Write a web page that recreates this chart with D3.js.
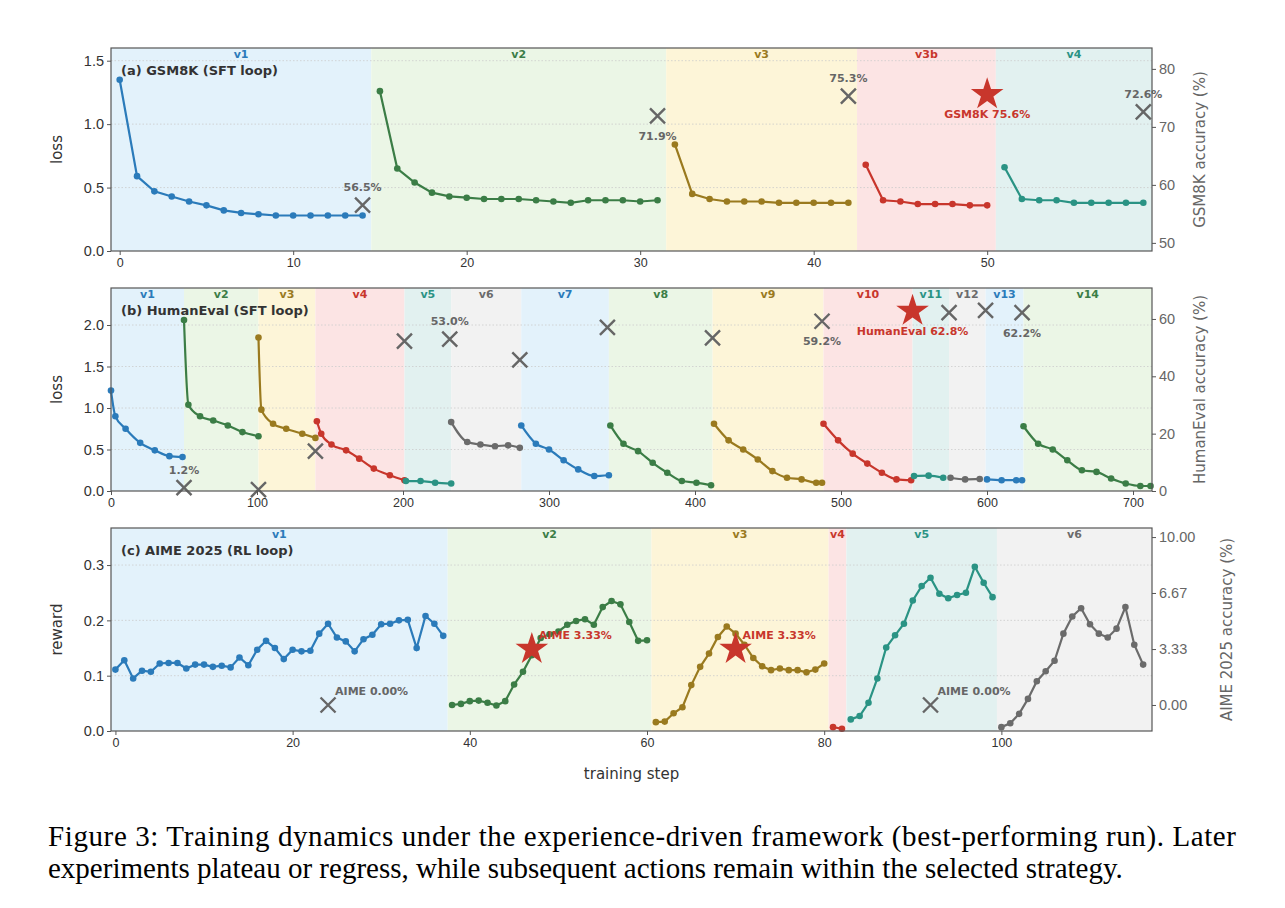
<!DOCTYPE html>
<html lang="en">
<head>
<meta charset="UTF-8">
<title>Training dynamics</title>
<style>
  body { margin: 0; background: #fff; }
  svg { font-family: "DejaVu Sans", sans-serif; }
  .caption { font-family: "Liberation Serif", serif; font-size: 29px; fill: #000; }
</style>
<script src="https://d3js.org/d3.v7.min.js"></script>
</head>
<body>
<svg width="1285" height="908"></svg>
<script>
// ---------- data ----------
const colors = { blue: "#2b7bba", green: "#3b7d46", olive: "#9a7a1f", red: "#c8362c", teal: "#2a9384", gray: "#6b6b6b" };
const fills  = { blue: "#e3f2fb", green: "#ebf6e6", olive: "#fdf5d8", red: "#fce4e4", teal: "#e2f1f0", gray: "#f2f2f2" };

// (a) GSM8K
const aBands = [
  { name: "v1", from: -0.5, to: 14.5, c: "blue" }, { name: "v2", from: 14.5, to: 31.5, c: "green" },
  { name: "v3", from: 31.5, to: 42.5, c: "olive" }, { name: "v3b", from: 42.5, to: 50.5, c: "red" },
  { name: "v4", from: 50.5, to: 59.5, c: "teal" }
];
const aLoss = [
  { start: 0,  c: "blue",  v: [1.35,0.59,0.47,0.43,0.39,0.36,0.32,0.30,0.29,0.28,0.28,0.28,0.28,0.28,0.28] },
  { start: 15, c: "green", v: [1.26,0.65,0.54,0.46,0.43,0.42,0.41,0.41,0.41,0.40,0.39,0.38,0.40,0.40,0.40,0.39,0.40] },
  { start: 32, c: "olive", v: [0.84,0.45,0.41,0.39,0.39,0.39,0.38,0.38,0.38,0.38,0.38] },
  { start: 43, c: "red",   v: [0.68,0.40,0.39,0.37,0.37,0.37,0.36,0.36] },
  { start: 51, c: "teal",  v: [0.66,0.41,0.40,0.40,0.38,0.38,0.38,0.38,0.38] }
];
const aEvals = [
  { step: 14, acc: 56.5, label: "56.5%", pos: "above" },
  { step: 31, acc: 71.9, label: "71.9%", pos: "below" },
  { step: 42, acc: 75.3, label: "75.3%", pos: "above" },
  { step: 50, acc: 75.6, label: "GSM8K 75.6%", pos: "below", best: true },
  { step: 59, acc: 72.6, label: "72.6%", pos: "above" }
];

// (b) HumanEval
const bBands = [
  { name: "v1", from: 0, to: 50, c: "blue" }, { name: "v2", from: 50, to: 101, c: "green" },
  { name: "v3", from: 101, to: 140, c: "olive" }, { name: "v4", from: 140, to: 201, c: "red" },
  { name: "v5", from: 201, to: 233, c: "teal" }, { name: "v6", from: 233, to: 281, c: "gray" },
  { name: "v7", from: 281, to: 341, c: "blue" }, { name: "v8", from: 341, to: 412, c: "green" },
  { name: "v9", from: 412, to: 488, c: "olive" }, { name: "v10", from: 488, to: 549, c: "red" },
  { name: "v11", from: 549, to: 574, c: "teal" }, { name: "v12", from: 574, to: 599, c: "gray" },
  { name: "v13", from: 599, to: 625, c: "blue" }, { name: "v14", from: 625, to: 713, c: "green" }
];
const bLoss = [
  { c: "blue",  p: [[0,1.21],[3,0.90],[10,0.75],[20,0.58],[30,0.49],[40,0.42],[49,0.41]] },
  { c: "green", p: [[50,2.06],[53,1.04],[61,0.90],[70,0.85],[80,0.79],[90,0.71],[101,0.66]] },
  { c: "olive", p: [[101,1.85],[103,0.98],[111,0.81],[120,0.75],[131,0.69],[140,0.64]] },
  { c: "red",   p: [[141,0.84],[144,0.69],[151,0.56],[161,0.49],[170,0.39],[180,0.27],[191,0.19],[201,0.13]] },
  { c: "teal",  p: [[202,0.12],[212,0.12],[222,0.10],[233,0.09]] },
  { c: "gray",  p: [[233,0.83],[244,0.59],[253,0.56],[263,0.54],[272,0.55],[280,0.52]] },
  { c: "blue",  p: [[281,0.79],[291,0.57],[300,0.50],[310,0.37],[320,0.26],[331,0.18],[341,0.19]] },
  { c: "green", p: [[342,0.79],[351,0.57],[361,0.48],[371,0.34],[381,0.22],[391,0.12],[401,0.10],[411,0.07]] },
  { c: "olive", p: [[413,0.81],[423,0.61],[433,0.50],[443,0.38],[453,0.24],[463,0.16],[473,0.14],[483,0.10],[487,0.10]] },
  { c: "red",   p: [[488,0.81],[498,0.61],[508,0.45],[518,0.33],[528,0.22],[538,0.14],[548,0.13]] },
  { c: "teal",  p: [[550,0.18],[560,0.185],[570,0.16]] },
  { c: "gray",  p: [[575,0.16],[585,0.14],[595,0.145]] },
  { c: "blue",  p: [[600,0.14],[610,0.13],[620,0.13],[624,0.13]] },
  { c: "green", p: [[625,0.78],[635,0.57],[645,0.50],[655,0.37],[665,0.25],[675,0.23],[685,0.15],[695,0.09],[705,0.06],[712,0.06]] }
];
const bEvals = [
  { step: 50, acc: 1.2, label: "1.2%", pos: "above" },
  { step: 101, acc: 0.5 },
  { step: 140, acc: 13.9 },
  { step: 201, acc: 52.3 },
  { step: 232, acc: 53.0, label: "53.0%", pos: "above" },
  { step: 280, acc: 45.7 },
  { step: 340, acc: 57.1 },
  { step: 412, acc: 53.4 },
  { step: 487, acc: 59.2, label: "59.2%", pos: "below" },
  { step: 549, acc: 62.8, label: "HumanEval 62.8%", pos: "below", best: true },
  { step: 574, acc: 62.2 },
  { step: 599, acc: 63.0 },
  { step: 624, acc: 62.2, label: "62.2%", pos: "below" }
];

// (c) AIME 2025
const cBands = [
  { name: "v1", from: -0.5, to: 37.5, c: "blue" }, { name: "v2", from: 37.5, to: 60.5, c: "green" },
  { name: "v3", from: 60.5, to: 80.5, c: "olive" }, { name: "v4", from: 80.5, to: 82.5, c: "red" },
  { name: "v5", from: 82.5, to: 99.5, c: "teal" }, { name: "v6", from: 99.5, to: 117, c: "gray" }
];
const cReward = [
  { start: 0, c: "blue", v: [0.111,0.128,0.095,0.109,0.107,0.122,0.123,0.123,0.113,0.120,0.120,0.116,0.118,0.115,0.133,0.119,0.147,0.163,0.150,0.130,0.147,0.144,0.145,0.176,0.194,0.169,0.162,0.144,0.166,0.174,0.193,0.194,0.200,0.201,0.150,0.208,0.194,0.172] },
  { start: 38, c: "green", v: [0.047,0.049,0.054,0.055,0.051,0.046,0.054,0.084,0.107,0.137,0.168,0.175,0.180,0.192,0.199,0.202,0.192,0.224,0.235,0.229,0.197,0.163,0.164] },
  { start: 61, c: "olive", v: [0.016,0.017,0.032,0.043,0.083,0.116,0.140,0.170,0.189,0.176,0.156,0.132,0.117,0.110,0.113,0.110,0.110,0.106,0.111,0.122] },
  { start: 81, c: "red", v: [0.007,0.004] },
  { start: 83, c: "teal", v: [0.021,0.027,0.051,0.095,0.151,0.173,0.194,0.236,0.262,0.277,0.248,0.240,0.246,0.250,0.297,0.268,0.242] },
  { start: 100, c: "gray", v: [0.007,0.014,0.031,0.058,0.090,0.108,0.127,0.176,0.207,0.222,0.193,0.176,0.169,0.185,0.224,0.156,0.120] }
];
const cEvals = [
  { step: 24, acc: 0.00, label: "AIME 0.00%", pos: "right" },
  { step: 47, acc: 3.33, label: "AIME 3.33%", pos: "right", best: true },
  { step: 70, acc: 3.33, label: "AIME 3.33%", pos: "right", best: true },
  { step: 92, acc: 0.00, label: "AIME 0.00%", pos: "right" }
];

// ---------- drawing ----------
const svg = d3.select("svg");
const L = 111, R = 1152;

function panel(cfg) {
  const g = svg.append("g");
  const x = d3.scaleLinear().domain(cfg.xDomain).range([L, R]);
  const y = d3.scaleLinear().domain(cfg.yDomain).range([cfg.bottom, cfg.top]);
  const y2 = d3.scaleLinear().domain(cfg.y2Domain).range([cfg.bottom, cfg.top]);

  g.selectAll("rect.band").data(cfg.bands).enter().append("rect")
    .attr("x", d => x(d.from)).attr("width", d => x(d.to) - x(d.from))
    .attr("y", cfg.top).attr("height", cfg.bottom - cfg.top)
    .attr("fill", d => fills[d.c]);
  g.selectAll("text.band").data(cfg.bands).enter().append("text")
    .attr("x", d => x((d.from + d.to) / 2)).attr("y", cfg.top + 10)
    .attr("text-anchor", "middle").attr("font-size", 11).attr("font-weight", "bold")
    .attr("fill", d => colors[d.c]).text(d => d.name);

  g.selectAll("line.grid").data(cfg.yTicks.filter(t => t > cfg.yDomain[0])).enter().append("line")
    .attr("x1", L).attr("x2", R).attr("y1", d => y(d)).attr("y2", d => y(d))
    .attr("stroke", "#ccc").attr("stroke-width", 0.8).attr("stroke-dasharray", "1.5,2");

  const line = d3.line().x(d => x(d[0])).y(d => y(d[1]));
  cfg.series.forEach(s => {
    const pts = s.p || s.v.map((v, i) => [s.start + i, v]);
    g.append("path").attr("d", line.curve(cfg.curve || d3.curveLinear)(pts))
      .attr("fill", "none").attr("stroke", colors[s.c]).attr("stroke-width", 2.2);
    g.selectAll(null).data(pts).enter().append("circle")
      .attr("cx", d => x(d[0])).attr("cy", d => y(d[1])).attr("r", 3.3).attr("fill", colors[s.c]);
  });

  cfg.evals.forEach(e => {
    const cx = x(e.step), cy = y2(e.acc);
    if (e.best) {
      g.append("path").attr("d", d3.symbol(d3.symbolStar, 330)())
        .attr("transform", `translate(${cx},${cy})`).attr("fill", colors.red);
    } else {
      const s = 7.5;
      g.append("path").attr("d", `M${cx - s},${cy - s}L${cx + s},${cy + s}M${cx - s},${cy + s}L${cx + s},${cy - s}`)
        .attr("stroke", "#666").attr("stroke-width", 2.4);
    }
    if (e.label) {
      const t = g.append("text").attr("font-size", 11).attr("font-weight", "bold")
        .attr("fill", e.best ? colors.red : "#666").text(e.label);
      if (e.pos === "right") t.attr("x", cx + 7).attr("y", cy - 10).attr("text-anchor", "start");
      else t.attr("x", cx).attr("y", e.pos === "above" ? cy - 14 : cy + 24).attr("text-anchor", "middle");
    }
  });

  g.append("rect").attr("x", L).attr("y", cfg.top).attr("width", R - L).attr("height", cfg.bottom - cfg.top)
    .attr("fill", "none").attr("stroke", "#555").attr("stroke-width", 1.2);

  g.append("text").attr("x", L + 10).attr("y", cfg.top + 27).attr("font-size", 13)
    .attr("font-weight", "bold").attr("fill", "#333").text(cfg.title);

  const ax = g.append("g").attr("transform", `translate(0,${cfg.bottom})`)
    .call(d3.axisBottom(x).tickValues(cfg.xTicks).tickSize(4).tickSizeOuter(0));
  ax.selectAll("text").attr("font-size", 12.5).attr("fill", "#333");
  const ay = g.append("g").attr("transform", `translate(${L},0)`)
    .call(d3.axisLeft(y).tickValues(cfg.yTicks).tickFormat(d3.format(cfg.yFmt)).tickSize(4).tickSizeOuter(0));
  ay.selectAll("text").attr("font-size", 14.5).attr("fill", "#333");
  const ay2 = g.append("g").attr("transform", `translate(${R},0)`)
    .call(d3.axisRight(y2).tickValues(cfg.y2Ticks).tickFormat(d3.format(cfg.y2Fmt)).tickSize(4).tickSizeOuter(0));
  ay2.selectAll("text").attr("font-size", 14.5).attr("fill", "#666");
  [ax, ay, ay2].forEach(a => { a.select(".domain").remove(); a.selectAll("line").attr("stroke", "#555"); });

  const mid = (cfg.top + cfg.bottom) / 2;
  g.append("text").attr("transform", `translate(62,${mid}) rotate(-90)`).attr("text-anchor", "middle")
    .attr("font-size", 15).attr("fill", "#333").text(cfg.yLabel);
  g.append("text").attr("transform", `translate(${cfg.y2LabelX},${mid}) rotate(-90)`).attr("text-anchor", "middle")
    .attr("font-size", 15).attr("fill", "#666").text(cfg.y2Label);
}

panel({
  title: "(a) GSM8K (SFT loop)", top: 48, bottom: 251,
  xDomain: [-0.5, 59.5], xTicks: [0, 10, 20, 30, 40, 50],
  yDomain: [0, 1.6], yTicks: [0, 0.5, 1.0, 1.5], yFmt: ".1f", yLabel: "loss",
  y2Domain: [48.6, 83.6], y2Ticks: [50, 60, 70, 80], y2Fmt: "d", y2Label: "GSM8K accuracy (%)", y2LabelX: 1205,
  bands: aBands, series: aLoss, evals: aEvals
});
panel({
  title: "(b) HumanEval (SFT loop)", top: 288, bottom: 491,
  xDomain: [0, 713], xTicks: [0, 100, 200, 300, 400, 500, 600, 700],
  yDomain: [0, 2.446], yTicks: [0, 0.5, 1.0, 1.5, 2.0], yFmt: ".1f", yLabel: "loss",
  y2Domain: [0, 70.8], y2Ticks: [0, 20, 40, 60], y2Fmt: "d", y2Label: "HumanEval accuracy (%)", y2LabelX: 1205,
  bands: bBands, series: bLoss, evals: bEvals, curve: d3.curveMonotoneX
});
panel({
  title: "(c) AIME 2025 (RL loop)", top: 528, bottom: 731,
  xDomain: [-0.5, 117], xTicks: [0, 20, 40, 60, 80, 100],
  yDomain: [0, 0.367], yTicks: [0, 0.1, 0.2, 0.3], yFmt: ".1f", yLabel: "reward",
  y2Domain: [-1.55, 10.54], y2Ticks: [0, 3.33, 6.67, 10], y2Fmt: ".2f", y2Label: "AIME 2025 accuracy (%)", y2LabelX: 1232,
  bands: cBands, series: cReward, evals: cEvals
});

svg.append("text").attr("x", (L + R) / 2).attr("y", 779).attr("text-anchor", "middle")
  .attr("font-size", 15).attr("fill", "#333").text("training step");

svg.append("text").attr("class", "caption").attr("x", 48).attr("y", 846)
  .attr("textLength", 1188).attr("lengthAdjust", "spacing")
  .text("Figure 3: Training dynamics under the experience-driven framework (best-performing run). Later");
svg.append("text").attr("class", "caption").attr("x", 48).attr("y", 878)
  .text("experiments plateau or regress, while subsequent actions remain within the selected strategy.");
</script>
</body>
</html>
